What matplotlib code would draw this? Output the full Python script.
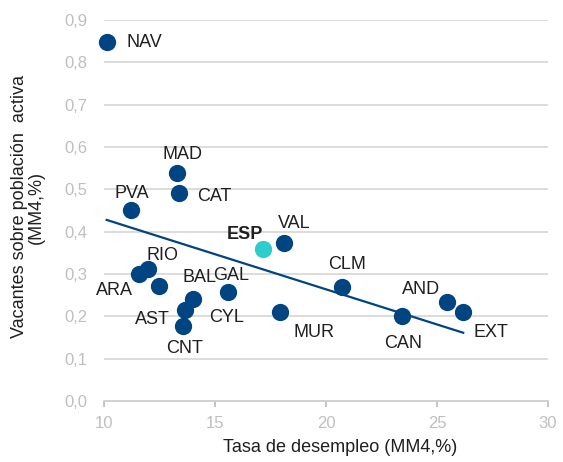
import numpy as np
import matplotlib
matplotlib.use("Agg")
import matplotlib.pyplot as plt

plt.rcParams['font.family'] = ['Liberation Sans', 'DejaVu Sans']

# Data
regions = ["NAV", "MAD", "CAT", "PVA", "VAL", "RIO", "ARA", "CYL", "BAL",
           "AST", "CNT", "GAL", "MUR", "CLM", "AND", "EXT", "CAN"]
desempleo = [10.12, 13.27, 13.36, 11.20, 18.12, 11.99, 11.59, 12.47, 14.03,
             13.67, 13.58, 15.60, 17.94, 20.72, 25.47, 26.18, 23.41]
vacantes = [0.848, 0.539, 0.492, 0.450, 0.374, 0.311, 0.300, 0.272, 0.240,
            0.215, 0.177, 0.258, 0.210, 0.270, 0.234, 0.210, 0.201]
esp_x, esp_y = 17.16, 0.360

xticks = [10, 15, 20, 25, 30]
yticks = [0.0, 0.1, 0.2, 0.3, 0.4, 0.5, 0.6, 0.7, 0.8, 0.9]
ytick_labels = ["0,0", "0,1", "0,2", "0,3", "0,4", "0,5", "0,6", "0,7", "0,8", "0,9"]

# label offsets in points (x right, y up)
offsets = {
    "NAV": (14, 0, "left"), "MAD": (4, 13, "center"), "CAT": (26, -3, "center"),
    "PVA": (1, 12, "center"), "VAL": (7, 14, "center"), "RIO": (10, 10, "center"),
    "ARA": (-18, -12, "center"), "CYL": (49, -23, "center"), "BAL": (4, 16, "center"),
    "AST": (-24, -7, "center"), "CNT": (1, -16, "center"), "GAL": (2, 12, "center"),
    "MUR": (24, -15, "center"), "CLM": (4, 16, "center"), "AND": (-19, 9, "center"),
    "EXT": (20, -15, "center"), "CAN": (1, -20, "center"),
}

blue = "#004481"
aqua = "#2DCCCD"
W, H = 563, 462

fig = plt.figure(figsize=(5.63, 4.62), dpi=100)
ax = fig.add_axes([104 / W, 1 - 401 / H, 444 / W, 381 / H])

ax.set_xlim(10, 30)
ax.set_ylim(0, 0.9)
ax.set_xticks(xticks)
ax.set_yticks(yticks)
ax.set_yticklabels(ytick_labels)
ax.grid(axis="y", color="#d9d9d9", linewidth=1.3, zorder=0)
ax.set_axisbelow(True)

for s in ["top", "right", "left"]:
    ax.spines[s].set_visible(False)
ax.spines["bottom"].set_color("#d0d0d0")
ax.spines["bottom"].set_linewidth(1.3)
ax.tick_params(axis="x", colors="#bfbfbf", length=4, width=1.3, pad=7, labelsize=12)
ax.tick_params(axis="y", colors="#bfbfbf", length=0, pad=12, labelsize=12)

# trend line (linear fit over the regions)
slope, intercept = np.polyfit(desempleo, vacantes, 1)
xl = np.array([min(desempleo), max(desempleo)])
ax.plot(xl, intercept + slope * xl, color=blue, linewidth=1.6, zorder=2)

ax.scatter(desempleo, vacantes, s=155, color=blue, zorder=3, linewidths=0, clip_on=False)
ax.scatter([esp_x], [esp_y], s=155, color=aqua, zorder=3, linewidths=0, clip_on=False)

for name, x, y in zip(regions, desempleo, vacantes):
    dx, dy, ha = offsets[name]
    ax.annotate(name, (x, y), xytext=(dx, dy), textcoords="offset points",
                ha=ha, va="center", fontsize=13, color="#1f1f1f")
ax.annotate("ESP", (esp_x, esp_y), xytext=(-13, 10), textcoords="offset points",
            ha="center", va="center", fontsize=13, color="#1f1f1f", fontweight="bold")

fig.text(340 / W, 1 - 448 / H, "Tasa de desempleo (MM4,%)", fontsize=13,
         color="#1f1f1f", ha="center", va="center")
fig.text(28 / W, 1 - 207 / H, "Vacantes sobre población  activa\n(MM4,%)",
         fontsize=13, color="#1f1f1f", ha="center", va="center",
         rotation=90, linespacing=1.05, multialignment="center")

fig.savefig("out.png", dpi=100)
